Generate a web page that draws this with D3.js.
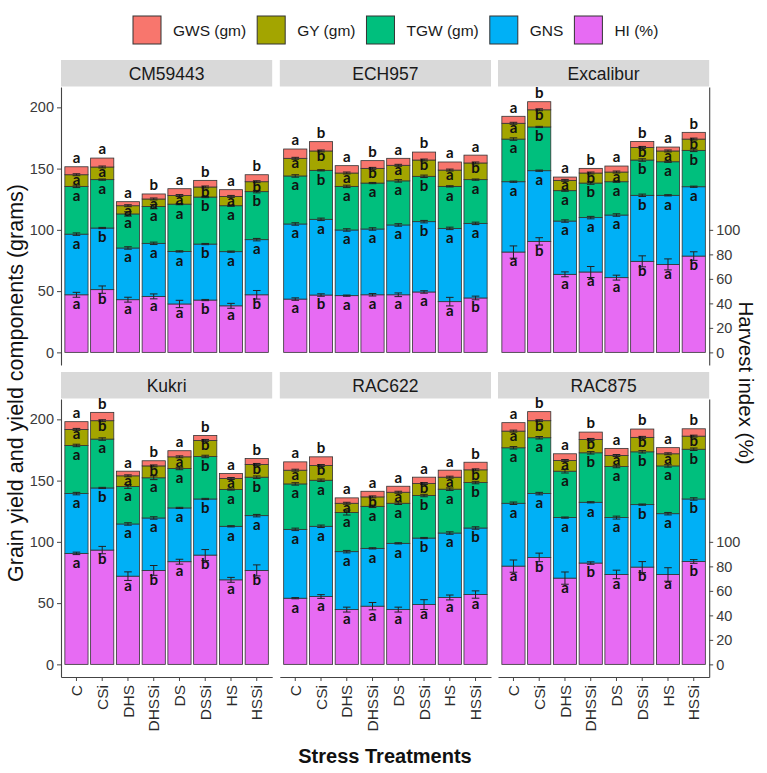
<!DOCTYPE html>
<html><head><meta charset="utf-8">
<script src="https://cdn.jsdelivr.net/npm/d3@7/dist/d3.min.js"></script>
<style>body{margin:0;background:#fff}svg{display:block}</style>
</head><body>
<svg id="chart" width="767" height="773"></svg>
<script>
const genotypes = ["CM59443","ECH957","Excalibur","Kukri","RAC622","RAC875"];
const treatments = ["C","CSi","DHS","DHSSi","DS","DSSi","HS","HSSi"];
const seriesNames = ["HI (%)","GNS","TGW (gm)","GY (gm)","GWS (gm)"]; // bottom -> top
const legendOrder = ["GWS (gm)","GY (gm)","TGW (gm)","GNS","HI (%)"];
const seriesColors = ["#E76BF3","#00B0F6","#00BF7D","#A3A500","#F8766D"];
const leftTicks = [0,50,100,150,200];
const rightTicks = [0,20,40,60,80,100];

// segment values per genotype (rows) and treatment (cols)
const HI = [
  [47,51.2,43,45.7,39.5,42.7,38,47],
  [43.5,46.8,46.3,47,47,49.3,41.4,44.4],
  [81.9,90.6,63.7,65.6,61,74.3,71.8,78.6],
  [90.6,93.3,72,76.7,83.8,89.2,69,76.7],
  [54,55.4,44.7,47.5,44.7,48.8,54.6,57],
  [80.2,87.3,70.4,82.7,73.4,79.4,73.4,84]
];
const GNS = [
  [49.5,50.3,42.2,43.3,42.9,45.7,44.2,45],
  [61.3,61.8,53.6,53.7,57,57.4,59.8,60.9],
  [57.4,57.7,43.5,44.4,51.1,53.9,56.4,56.6],
  [48.8,50.7,42.6,42.8,43.9,45.8,43.7,44.7],
  [56.2,57.3,47.3,47.2,54.1,54.3,52.6,54.3],
  [51.3,52.1,49.4,49.6,46.4,51,49.6,51]
];
const TGW = [
  [39,39.5,27.8,30,38.6,38.4,37.5,39.2],
  [39.2,40,35.6,37.5,36,37,34.3,35.7],
  [34.8,35.7,24.8,28.2,27.2,28.8,27.4,29.7],
  [39.3,39.9,30.6,32.8,32.2,34.7,30,31.4],
  [37.1,37.6,31.9,34.3,32.7,34.7,35.8,37.1],
  [45.3,45.6,37.9,40.4,41.7,43.1,39,40.6]
];
const GY = [
  [9.5,10.3,6.7,6.2,7,8.2,7.6,8.1],
  [14.4,15.8,10.9,12,12.7,13.3,13.3,13.6],
  [12.9,14,8.4,8.2,7.9,10.3,8.8,9.2],
  [13.1,15,8.7,9.7,9.5,13.1,9,10.4],
  [11.2,12,7.6,7.7,9,9.8,9.8,10.4],
  [13.6,13.9,8.7,10.9,9,11.8,9.9,10.7]
];
const GWS = [
  [6.5,7.3,3.3,4.1,5.6,5.4,5.5,5.7],
  [7.6,7.6,6,6.3,5.7,6.5,6.6,6.4],
  [5.7,6.6,2.7,3.8,4.9,4.9,3.2,5.5],
  [6.3,6.8,3.8,4.2,5,4.1,4.1,4.8],
  [6.8,7.1,4.4,4.6,4.9,5.2,5.7,6.2],
  [6.9,7.4,5.5,6,5.8,6.8,5,6]
];
// standard errors
const errHI = [
  [2,3,2,2,3,0.5,2,3.5],
  [1,1,0.5,1,1.5,1,3.5,1.5],
  [5,3,2,4.5,2,4.5,4.5,3.5],
  [1,3,3.5,4,2,4.5,2,4.5],
  [0.5,1.5,2,3,2,4,2,3],
  [5,3.5,5,1,3.5,4.5,5.5,1.5]
];
const errGNS = [
  [1,0.5,1,1,0.5,0.5,0.5,1],
  [1,1,1,1,1,1,1,1],
  [0.5,0.5,1,1,1,1,0.5,0.5],
  [1,0.5,1,1,0.5,0.5,0.5,1],
  [1,1,1,0.5,0.5,0.5,1,1],
  [1,1,0.5,0.5,1.2,0.5,1,1]
];
const errTGW = [
  [1,0.5,1.8,1.8,0.5,0.5,0.5,1],
  [1,0.5,1,0.5,1,1,0.5,0.5],
  [1,0.5,0.5,1,0.5,1,0.5,1],
  [1,1,1.5,1.5,1,1,0.5,1],
  [1,1,2,1,1,1,1,1],
  [1,1,1.5,1,1,1,1,1]
];
const errGY = [
  [0.8,0.8,0.8,0.8,0.8,0.8,0.8,0.8],
  [0.8,0.8,0.8,0.8,0.8,0.8,0.8,0.8],
  [0.8,0.8,0.8,0.8,0.8,0.8,0.8,0.8],
  [0.8,0.8,0.8,0.8,0.8,0.8,0.8,0.8],
  [0.8,0.8,0.8,0.8,0.8,0.8,0.8,0.8],
  [0.8,0.8,0.8,0.8,0.8,0.8,0.8,0.8]
];
// significance letters
const letHI  = ["abaaabab","abaaaaab","abaaabab","abababab","aaaaaaaa","abababab"];
const letGNS = ["abaaabaa","aaaaabaa","aaaaabaa","abaaabaa","aaaaabab","aaaaabab"];
const letTGW = ["aaaaabab","abaaabaa","abababab","aaaaabab","aaaaabab","aaababab"];
const letGY  = ["aaaaabab","abababab","abababab","abababab","abababab","abababab"];
const letGWS = ["aaababab","abababaa","abababab","abababab","abaaaaab","abababab"];

const values = [HI, GNS, TGW, GY, GWS];
const errors = [errHI, errGNS, errTGW, errGY, null];
const letters = [letHI, letGNS, letTGW, letGY, letGWS];
const colorOf = d3.scaleOrdinal().domain(seriesNames).range(seriesColors);

const svg = d3.select("#chart");
const AX = "Liberation Sans, Arial, sans-serif";
const colX = [61, 279.8, 498];
const panelW = 211.2;
const rowY = [87, 399];
const panelH = 278;
const stripH = 27;

let maxTotal = 0;
genotypes.forEach((g,gi)=>treatments.forEach((t,ti)=>{
  const s = values.reduce((a,v)=>a+v[gi][ti],0); if(s>maxTotal) maxTotal=s;
}));
const yDomain = [-0.05*maxTotal, maxTotal*1.05];

genotypes.forEach((g, gi) => {
  const col = gi % 3, row = Math.floor(gi / 3);
  const x0 = colX[col], y0 = rowY[row];
  const x = d3.scaleBand().domain(treatments).range([x0, x0 + panelW]).paddingInner(0.1).paddingOuter(0.15);
  const y = d3.scaleLinear().domain(yDomain).range([y0 + panelH, y0]);
  const gp = svg.append("g");

  // strip
  gp.append("rect").attr("x", x0).attr("y", y0 - stripH).attr("width", panelW).attr("height", stripH - 0.5).attr("fill", "#d9d9d9");
  gp.append("text").attr("x", x0 + panelW/2).attr("y", y0 - stripH/2).attr("dy", "0.36em")
    .attr("text-anchor","middle").attr("font-family", AX).attr("font-size", 17.5).attr("fill","#1a1a1a").text(g);

  // stacked bars
  const stackData = treatments.map((t, ti) => {
    const o = {t};
    seriesNames.forEach((s, si) => o[s] = values[si][gi][ti]);
    return o;
  });
  const stacked = d3.stack().keys(seriesNames)(stackData);
  stacked.forEach((layer, si) => {
    gp.append("g").selectAll("rect").data(layer).join("rect")
      .attr("x", d => x(d.data.t)).attr("width", x.bandwidth())
      .attr("y", d => y(d[1])).attr("height", d => y(d[0]) - y(d[1]))
      .attr("fill", colorOf(seriesNames[si])).attr("stroke", "#333").attr("stroke-width", 0.8);
  });
  // error bars
  stacked.forEach((layer, si) => {
    if (!errors[si]) return;
    const eg = gp.append("g").attr("stroke", "#222").attr("stroke-width", 1).attr("fill","none");
    layer.forEach((d, ti) => {
      const e = errors[si][gi][ti];
      const cx = x(d.data.t) + x.bandwidth()/2;
      const hi = y(d[1] + e), lo = y(d[1] - e);
      eg.append("line").attr("x1", cx).attr("x2", cx).attr("y1", hi).attr("y2", lo);
      eg.append("line").attr("x1", cx-3.8).attr("x2", cx+3.8).attr("y1", hi).attr("y2", hi);
      eg.append("line").attr("x1", cx-3.8).attr("x2", cx+3.8).attr("y1", lo).attr("y2", lo);
    });
  });
  // letters
  const offs = [9, 9, 9, 4.5, -9];
  stacked.forEach((layer, si) => {
    gp.append("g").selectAll("text").data(layer).join("text")
      .attr("x", d => x(d.data.t) + x.bandwidth()/2)
      .attr("y", d => y(d[1]) + offs[si]).attr("dy", "0.36em")
      .attr("text-anchor", "middle").attr("font-family", "Lato, 'Open Sans', sans-serif")
      .attr("font-weight", 700).attr("font-size", 15).attr("fill", "#111")
      .text((d, ti) => letters[si][gi][ti]);
  });

  // axes
  const styleAxis = (a, fs) => {
    a.select(".domain").attr("stroke", "#444").attr("stroke-width", 1.1);
    a.selectAll(".tick line").attr("stroke", "#444");
    a.selectAll(".tick text").attr("fill", "#3a3a3a").attr("font-family", AX).attr("font-size", fs);
  };
  if (col === 0) {
    const a = gp.append("g").attr("transform", `translate(${x0},0)`)
      .call(d3.axisLeft(y).tickValues(leftTicks).tickSize(4).tickSizeOuter(0).tickPadding(3));
    styleAxis(a, 14.5);
  }
  if (col === 2) {
    const a = gp.append("g").attr("transform", `translate(${x0 + panelW},0)`)
      .call(d3.axisRight(y).tickValues(rightTicks).tickSize(4).tickSizeOuter(0).tickPadding(3));
    styleAxis(a, 14.5);
  }
  if (row === 1) {
    const a = gp.append("g").attr("transform", `translate(0,${y0 + panelH})`)
      .call(d3.axisBottom(x).tickSize(4).tickSizeOuter(0).tickPadding(3));
    styleAxis(a, 15.5);
    a.selectAll(".tick text").attr("transform", "rotate(-90)").attr("text-anchor", "end")
      .attr("x", -8).attr("y", 0).attr("dy", "0.36em").attr("fill", "#2a2a2a");
  }
});

// axis titles
svg.append("text").attr("transform", "translate(23,383) rotate(-90)").attr("text-anchor","middle")
  .attr("font-family", AX).attr("font-size", 21.5).attr("fill","#111").text("Grain yield and yield components (grams)");
svg.append("text").attr("transform", "translate(739,383) rotate(90)").attr("text-anchor","middle")
  .attr("font-family", AX).attr("font-size", 20.5).attr("fill","#111").text("Harvest index (%)");
svg.append("text").attr("x", 385).attr("y", 763).attr("text-anchor","middle")
  .attr("font-family", AX).attr("font-weight", 700).attr("font-size", 20).attr("fill","#111").text("Stress Treatments");

// legend
const lg = svg.append("g");
let lx = 133;
legendOrder.forEach(name => {
  lg.append("rect").attr("x", lx).attr("y", 16).attr("width", 28).attr("height", 28)
    .attr("fill", colorOf(name)).attr("stroke", "#333").attr("stroke-width", 1);
  const t = lg.append("text").attr("x", lx + 40).attr("y", 30).attr("dy", "0.36em")
    .attr("font-family", AX).attr("font-size", 15.5).attr("fill","#1a1a1a").text(name);
  lx += 40 + t.node().getComputedTextLength() + 11;
});
</script>
</body></html>
